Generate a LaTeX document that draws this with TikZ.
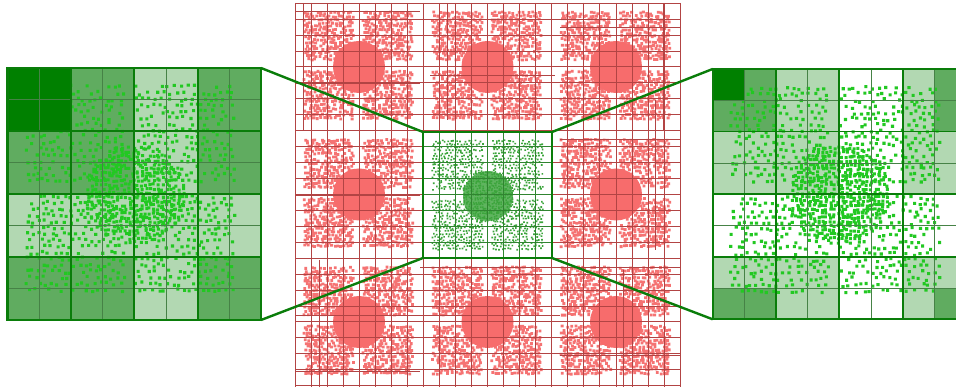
\documentclass[tikz,border=0pt]{standalone}
\definecolor{dgreen}{RGB}{0,128,0}
\definecolor{mgreen}{RGB}{96,172,96}
\definecolor{lgreen}{RGB}{178,216,178}
\definecolor{pgreen}{RGB}{34,200,34}
\definecolor{cgreen}{RGB}{60,165,60}
\definecolor{cdisc}{RGB}{95,180,95}
\definecolor{framegreen}{RGB}{10,125,10}
\definecolor{thingreen}{RGB}{70,130,70}
\definecolor{rdot}{RGB}{245,115,115}
\definecolor{rdisc}{RGB}{247,108,108}
\definecolor{rgrid}{RGB}{178,68,68}
\tikzset{
  fillD/.style={fill=dgreen},
  fillM/.style={fill=mgreen},
  fillL/.style={fill=lgreen},
  fillW/.style={fill=white},
  frame/.style={draw=framegreen,line width=2.4pt,inner sep=0pt,outer sep=0pt,fill=none},
  conn/.style={draw=framegreen,line width=2.4pt},
  redgrid/.style={draw=rgrid,line width=0.6pt},
  greengrid/.style={draw=cgreen!80!black,line width=0.5pt},
  panelthin/.style={draw=thingreen,line width=0.7pt},
  panelthick/.style={draw=framegreen,line width=1.8pt}
}
% x0 y0 w h step halfsize keep color
\newcommand\dotpatch[8]{%
  \pgfmathtruncatemacro\dpnx{(#3)/(#5)}%
  \pgfmathtruncatemacro\dpny{(#4)/(#5)}%
  \fill[#8] \foreach \dpi in {0,...,\dpnx}{\foreach \dpj [evaluate=\dpj as \dk using {1-(rnd<#7)}] in {0,...,\dpny}{
    ({#1+\dpi*#5+0.5*#5*mod(\dpj,2)+0.3*#5*rand-#6+3000*\dk},{#2+\dpj*#5+0.3*#5*rand-#6})
    rectangle ++({2*#6},{2*#6}) }};%
}
% cx cy R step halfsize keep color
\newcommand\dotdisc[7]{%
  \pgfmathtruncatemacro\ddn{2*(#3)/(#4)}%
  \fill[#7] \foreach \dpi in {0,...,\ddn}{\foreach \dpj [evaluate=\dpj as \dk using {1-(rnd<#6)*((((\dpi)*(#4)-(#3))^2+((\dpj)*(#4)-(#3))^2)<((#3)*(#3)))}] in {0,...,\ddn}{
    ({#1-#3+\dpi*#4+0.3*#4*rand-#5+3000*\dk},{#2-#3+\dpj*#4+0.3*#4*rand-#5})
    rectangle ++({2*#5},{2*#5}) }};%
}
\begin{document}
\begin{tikzpicture}[x=1pt,y=-1pt]
\pgfmathsetseed{12345}
\useasboundingbox (0,0) rectangle (956,387);
\fill[white] (0,0) rectangle (956,387);

% ---------- red quadtree ----------
\foreach \bi in {0,1,2}{\foreach \bj in {0,1,2}{
  \ifnum\numexpr\bi*3+\bj\relax=4 \else
    \pgfmathsetmacro\bx{295+\bi*128.5}
    \pgfmathsetmacro\by{3+\bj*127.5}
    \dotpatch{\bx+10}{\by+10}{48}{48}{3.3}{1.4}{0.85}{rdot}
    \dotpatch{\bx+69}{\by+10}{48}{48}{3.3}{1.4}{0.85}{rdot}
    \dotpatch{\bx+10}{\by+69}{48}{48}{3.3}{1.4}{0.85}{rdot}
    \dotpatch{\bx+69}{\by+69}{48}{48}{3.3}{1.4}{0.85}{rdot}
    \fill[rdisc] (\bx+64,\by+64) circle[radius=26];
  \fi
}}
\foreach \k in {0,...,24}{
  \draw[redgrid] ({295+\k*16.04},3) -- ({295+\k*16.04},390);
  \draw[redgrid] (295,{3+\k*15.94}) -- (680,{3+\k*15.94});
}
% a few extra subdivisions
\foreach \xx/\ya/\yb in {303/3/131, 319/260/387, 327/140/250, 447/3/120, 583/3/60, 599/200/387, 655/100/250, 663/3/131, 311/3/60, 623/270/387}{
  \draw[redgrid] (\xx,\ya) -- (\xx,\yb);
}
\foreach \yy/\xa/\xb in {11/295/420, 27/560/680, 83/295/420, 139/560/680, 195/295/420, 267/420/680, 315/295/560, 355/560/680, 75/430/555, 371/295/420}{
  \draw[redgrid] (\xa,\yy) -- (\xb,\yy);
}

% ---------- green centre block ----------
\fill[white] (423,132) rectangle (552,258);
\dotpatch{433}{141}{48}{48}{3.0}{0.85}{0.85}{cgreen}
\dotpatch{493}{141}{48}{48}{3.0}{0.85}{0.85}{cgreen}
\dotpatch{433}{201}{48}{48}{3.0}{0.85}{0.85}{cgreen}
\dotpatch{493}{201}{48}{48}{3.0}{0.85}{0.85}{cgreen}
\fill[cdisc] (488,196) circle[radius=25];
\dotdisc{488}{196}{26}{2.3}{0.8}{0.9}{cgreen}
\begin{scope}
  \clip (423,132) rectangle (552,258);
  \foreach \k in {8,...,16}{
    \draw[greengrid] ({295+\k*16.04},132) -- ({295+\k*16.04},258);
    \draw[greengrid] (423,{3+\k*15.94}) -- (552,{3+\k*15.94});
  }
\end{scope}

% ---------- left panel ----------
\foreach \row [count=\r from 0] in {{D,M,L,M},{M,M,L,M},{L,L,L,L},{M,M,L,M}}{
  \foreach \c [count=\k from 0] in \row {
    \fill[fill\c] ({7.5+\k*63.375},{68+\r*63}) rectangle ++(63.375,63);
  }
}
\begin{scope}
  \clip (7.5,68) rectangle (261,320);
  \dotpatch{27}{87}{95}{95}{6.2}{1.55}{0.75}{pgreen}
  \dotpatch{137}{87}{95}{95}{6.2}{1.55}{0.75}{pgreen}
  \dotpatch{27}{197}{95}{95}{6.2}{1.55}{0.75}{pgreen}
  \dotpatch{137}{197}{95}{95}{6.2}{1.55}{0.75}{pgreen}
  \dotdisc{134.5}{194}{50}{4.1}{1.5}{0.92}{pgreen}
  \fill[dgreen] (7.5,68) rectangle ++(63.375,63);
\end{scope}
\foreach \k in {1,3,5,7}{
  \draw[panelthin] ({7.5+\k*31.69},68) -- ({7.5+\k*31.69},320);
  \draw[panelthin] (7.5,{68+\k*31.5}) -- (261,{68+\k*31.5});
}
\foreach \k in {1,2,3}{
  \draw[panelthick] ({7.5+\k*63.375},68) -- ({7.5+\k*63.375},320);
  \draw[panelthick] (7.5,{68+\k*63}) -- (261,{68+\k*63});
}

% ---------- right panel ----------
\foreach \row [count=\r from 0] in {
  {D,M,L,L,W,W,L,M},{M,M,L,L,W,W,L,M},{L,L,L,L,W,W,L,L},{L,L,L,L,W,W,L,L},
  {W,W,W,W,W,W,W,W},{W,W,W,W,W,W,W,W},{L,L,L,L,W,W,L,L},{M,M,L,L,W,W,L,M}}{
  \foreach \c [count=\k from 0] in \row {
    \fill[fill\c] ({712.7+\k*31.65},{69+\r*31.29}) rectangle ++(31.65,31.29);
  }
}
\begin{scope}
  \clip (712.7,69) rectangle (966,319.3);
  \dotpatch{732}{88}{95}{95}{6.2}{1.55}{0.75}{pgreen}
  \dotpatch{842}{88}{95}{95}{6.2}{1.55}{0.75}{pgreen}
  \dotpatch{732}{198}{95}{95}{6.2}{1.55}{0.75}{pgreen}
  \dotpatch{842}{198}{95}{95}{6.2}{1.55}{0.75}{pgreen}
  \dotdisc{839.3}{194.2}{50}{4.1}{1.5}{0.92}{pgreen}
  \fill[dgreen] (712.7,69) rectangle ++(31.65,31.29);
\end{scope}
\foreach \k in {1,3,5,7}{
  \draw[panelthin] ({712.7+\k*31.65},69) -- ({712.7+\k*31.65},319.3);
  \draw[panelthin] (712.7,{69+\k*31.29}) -- (966,{69+\k*31.29});
}
\foreach \k in {1,2,3}{
  \draw[panelthick] ({712.7+\k*63.3},69) -- ({712.7+\k*63.3},319.3);
  \draw[panelthick] (712.7,{69+\k*62.58}) -- (966,{69+\k*62.58});
}

% ---------- frames and connectors ----------
\node[frame,minimum width=253.5pt,minimum height=252pt,anchor=north west] (L) at (7.5,68) {};
\node[frame,minimum width=129pt,minimum height=126pt,anchor=north west] (C) at (423,132) {};
\node[frame,minimum width=253.3pt,minimum height=250.3pt,anchor=north west] (R) at (712.7,69) {};
\draw[conn] (C.north west) -- (L.north east);
\draw[conn] (C.south west) -- (L.south east);
\draw[conn] (C.north east) -- (R.north west);
\draw[conn] (C.south east) -- (R.south west);
\end{tikzpicture}
\end{document}
